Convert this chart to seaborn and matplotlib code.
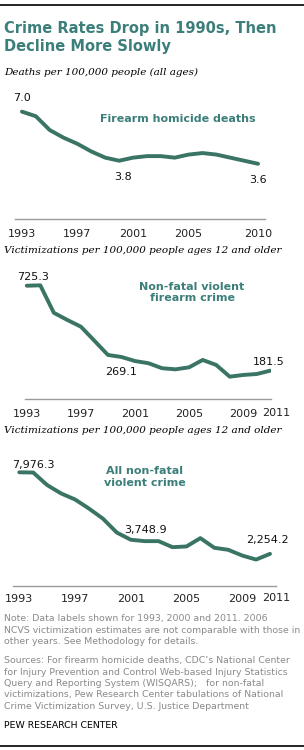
import matplotlib
matplotlib.use("Agg")
import matplotlib.pyplot as plt
import seaborn as sns
import pandas as pd
import numpy as np

# ---------------- data ----------------
years_homicide = list(range(1993, 2011))
homicide_rate = [7.0, 6.7, 5.8, 5.3, 4.9, 4.4, 4.0, 3.8, 4.0, 4.1, 4.1, 4.0, 4.2, 4.3, 4.2, 4.0, 3.8, 3.6]

years_ncvs = list(range(1993, 2012))
firearm_crime = [725.3, 728.0, 552.0, 506.0, 463.0, 373.0, 282.0, 269.1, 243.0, 229.0, 197.0, 190.0,
                 203.0, 250.0, 218.0, 143.0, 154.0, 160.0, 181.5]
violent_crime = [7976.3, 7960.0, 7080.0, 6494.0, 6070.0, 5435.0, 4729.0, 3748.9, 3246.0, 3147.0,
                 3147.0, 2724.0, 2773.0, 3359.0, 2681.0, 2540.0, 2138.0, 1855.0, 2254.2]

ticks_homicide = [1993, 1997, 2001, 2005, 2010]
ticks_ncvs = [1993, 1997, 2001, 2005, 2009, 2011]

title_lines = ["Crime Rates Drop in 1990s, Then", "Decline More Slowly"]
subtitle_1 = "Deaths per 100,000 people (all ages)"
subtitle_2 = "Victimizations per 100,000 people ages 12 and older"
series_names = ["Firearm homicide deaths", "Non-fatal violent\nfirearm crime", "All non-fatal\nviolent crime"]
note_lines = ["Note: Data labels shown for 1993, 2000 and 2011. 2006",
              "NCVS victimization estimates are not comparable with those in",
              "other years. See Methodology for details."]
source_lines = ["Sources: For firearm homicide deaths, CDC\u2019s National Center",
                "for Injury Prevention and Control Web-based Injury Statistics",
                "Query and Reporting System (WISQARS);   for non-fatal",
                "victimizations, Pew Research Center tabulations of National",
                "Crime Victimization Survey, U.S. Justice Department"]
credit = "PEW RESEARCH CENTER"

# ---------------- style ----------------
sns.set_theme(style="white")
plt.rcParams["font.family"] = ["DejaVu Sans"]

W, H = 304, 750
DPI = 100
LINE_C = "#3a7464"
TEAL = "#3c7f7a"
GRAY_TXT = "#8a8a8a"
SPINE_C = "#9a9a9a"
PX = 72.0 / DPI  # points per pixel

fig = plt.figure(figsize=(W / DPI, H / DPI), dpi=DPI)
fig.patch.set_facecolor("white")
renderer = fig.canvas.get_renderer()


def fx(x):
    return x / W


def fy(y):
    return 1 - y / H


def rect(x0, x1, ytop, ybot):
    return [fx(x0), fy(ybot), (x1 - x0) / W, (ybot - ytop) / H]


def fit_size(s, target_w, **kw):
    t = fig.text(0, 0, s, fontsize=10, **kw)
    w = t.get_window_extent(renderer).width
    t.remove()
    return 10 * target_w / w


def panel(ax_rect, x, y, xlim, ylim, ticks, labels_spec, name, name_xy, tick_pad):
    ax = fig.add_axes(ax_rect)
    df = pd.DataFrame({"year": x, "value": y})
    sns.lineplot(data=df, x="year", y="value", ax=ax, color=LINE_C, linewidth=2.8,
                 solid_capstyle="round", solid_joinstyle="round")
    ax.set_xlim(*xlim)
    ax.set_ylim(*ylim)
    ax.set_xticks(ticks)
    ax.set_xticklabels([str(t) for t in ticks])
    ax.set_yticks([])
    ax.set_xlabel("")
    ax.set_ylabel("")
    ax.patch.set_alpha(0)
    for s in ["top", "left", "right"]:
        ax.spines[s].set_visible(False)
    ax.spines["bottom"].set_color(SPINE_C)
    ax.spines["bottom"].set_linewidth(1.0)
    ax.tick_params(axis="x", length=0, pad=tick_pad, labelsize=8, labelcolor="#222222")
    for yr, val, txt, dx, dy in labels_spec:
        ax.annotate(txt, xy=(yr, val), xytext=(dx * PX, dy * PX), textcoords="offset points",
                    ha="center", va="center", fontsize=8, color="#111111")
    fig.text(fx(name_xy[0]), fy(name_xy[1]), name, ha="center", va="center",
             fontsize=8, fontweight="bold", color=TEAL, linespacing=1.15)
    return ax


# Panel 1
panel(rect(15, 265, 96, 219), years_homicide, homicide_rate, (1992.5, 2010.5), (0, 8.02),
      ticks_homicide,
      [(1993, 7.0, "7.0", 0, 13.5), (2000, 3.8, "3.8", 4, -16), (2010, 3.6, "3.6", 0, -16)],
      series_names[0], (178, 119), 7)

# Panel 2
ax2 = panel(rect(25, 271, 270, 399), years_ncvs, firearm_crime, (1992.87, 2011.05), (0, 826),
            ticks_ncvs,
            [(1993, 725.3, "725.3", 6, 9), (2000, 269.1, "269.1", 0, -15.5), (2011, 181.5, "181.5", -2, 9)],
            series_names[1], (192, 292.5), 7)

# Panel 3
ax3 = panel(rect(13.3, 276, 455, 586), years_ncvs, violent_crime, (1992.57, 2011.43), (0, 9190),
            ticks_ncvs,
            [(1993, 7976.3, "7,976.3", 14, 7), (2000, 3748.9, "3,748.9", 29, 3),
             (2011, 2254.2, "2,254.2", -3, 14)],
            series_names[2], (145, 477), 6)

# shift the 2011 tick labels right a little
from matplotlib.transforms import ScaledTranslation
for ax in (ax2, ax3):
    lab = ax.get_xticklabels()[-1]
    lab.set_transform(lab.get_transform() + ScaledTranslation(6 / DPI, 1 / DPI, fig.dpi_scale_trans))

# rules top and bottom
fig.add_artist(plt.Line2D([0, 1], [fy(4.5), fy(4.5)], color="black", linewidth=1.2, transform=fig.transFigure))
fig.add_artist(plt.Line2D([0, 1], [fy(745.5), fy(745.5)], color="black", linewidth=1.2, transform=fig.transFigure))

# title
ts = fit_size(title_lines[0], 271, fontweight="bold")
fig.text(fx(4), fy(33.3), title_lines[0], fontsize=ts, fontweight="bold", color=TEAL, va="baseline")
fig.text(fx(4), fy(50.7), title_lines[1], fontsize=ts, fontweight="bold", color=TEAL, va="baseline")

# subtitles
sub_kw = dict(family=["DejaVu Serif"], style="italic")
ss = fit_size(subtitle_2, 279, **sub_kw)
fig.text(fx(4), fy(75), subtitle_1, fontsize=ss, color="black", va="baseline", **sub_kw)
fig.text(fx(4), fy(253.3), subtitle_2, fontsize=ss, color="black", va="baseline", **sub_kw)
fig.text(fx(4), fy(432.7), subtitle_2, fontsize=ss, color="black", va="baseline", **sub_kw)

# notes
ns = fit_size(note_lines[1], 296)
for txt, yy in zip(note_lines, [619, 630.7, 642]):
    fig.text(fx(4), fy(yy), txt, fontsize=ns, color=GRAY_TXT, va="center")
for txt, yy in zip(source_lines, [661, 672.3, 683.6, 694.9, 706.2]):
    fig.text(fx(4), fy(yy), txt, fontsize=ns, color=GRAY_TXT, va="center")
fig.text(fx(4), fy(725), credit, fontsize=ns, color="black", va="center")

fig.savefig("out.png", dpi=DPI, facecolor="white")
